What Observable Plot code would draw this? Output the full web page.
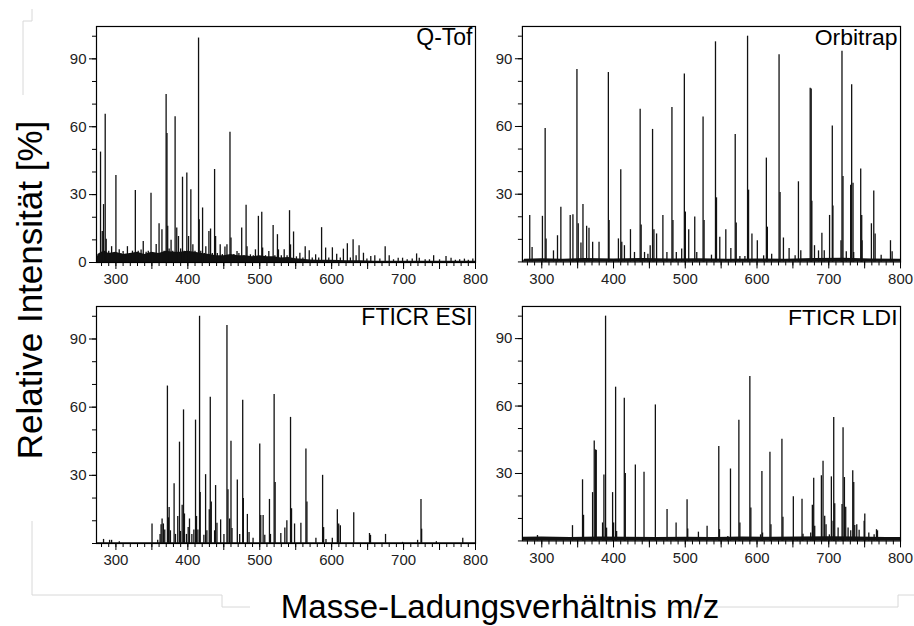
<!DOCTYPE html>
<html><head><meta charset="utf-8">
<script src="https://cdn.jsdelivr.net/npm/d3@7"></script>
<script src="https://cdn.jsdelivr.net/npm/@observablehq/plot@0.6"></script>
<style>
body{margin:0;background:#fff;font-family:"Liberation Sans",Arial,sans-serif;}
#wrap{position:relative;width:914px;height:626px;overflow:hidden;}
.panel{position:absolute;}
#ylab{position:absolute;left:30px;top:290px;transform:translate(-50%,-50%) rotate(-90deg);font-size:35px;white-space:nowrap;color:#000;}
#xlab{position:absolute;left:500px;top:607px;transform:translate(-50%,-50%);font-size:33px;white-space:nowrap;color:#000;}
#deco{position:absolute;left:0;top:0;}
</style></head><body><div id="wrap">
<svg id="deco" width="914" height="626"><path d="M32,9V21H23V95M32,521V595H222V607H250M670,607H898V595H914" fill="none" stroke="#d8d8d8" stroke-width="1"/></svg>
</div>
<script>
// ---- data: [m/z, relative intensity %] ----
const qtofPeaks = [[278.6,48.8],[281,13.7],[282.8,25.6],[285.1,65.5],[286.5,10.3],[290,5],[294,7],[297,4],[300,38.4],[304.6,5.6],[307,4],[310,4.9],[313,3.5],[316,7],[320,4],[323,5],[327,31.8],[331,5],[335,5.5],[338,9.3],[342,4.5],[345,5],[348.8,30.6],[353,4],[356,8],[360,17.1],[364,14.5],[367,5],[369.8,74.3],[371,57],[372,16],[374,6],[376.7,9.8],[379,5],[382.3,64.4],[384.6,15.2],[387,11.5],[390,6],[392.6,37.7],[395,5],[398.6,39.6],[401,11.5],[404.2,32.2],[407,7.8],[410,5],[414.9,99.2],[415.8,18.9],[418,5],[420.5,24.1],[423,4],[425,7],[429.3,13.7],[431.6,14.8],[434,4],[437.2,41.1],[438.6,11.5],[441,4],[445,7.8],[448,3.5],[451.6,6.8],[454.4,7.8],[458.6,57.6],[460,10.8],[464,3.5],[468.4,4.9],[471,4],[474.9,15.2],[478,3],[481,25.3],[482.3,7],[487,3.4],[491,3],[494,5.6],[498.1,20.4],[502.8,22.2],[504,6.4],[508,3],[512.6,4.9],[518.6,16.3],[521,3],[524.6,12.3],[526,5.6],[530,3],[534,5.6],[538,3],[541.4,22.9],[542.8,7.8],[547,13.5],[551,2.5],[555.8,4.1],[560,2],[563.2,7],[568.8,5.2],[573,2],[577.7,3.4],[582,2],[586,15.4],[591.6,6.4],[596,2],[601,6.5],[607,3.7],[612,2],[616.3,5.9],[621.8,8.3],[626,2],[629.8,10],[634,3],[638.1,7.4],[644.2,4.1],[649,1.5],[654.4,2.7],[660,3],[667,1.5],[674.4,7],[680,3],[686,1.2],[692.5,1.9],[698.6,1.9],[705,1.2],[712,1.5],[718.1,3.8],[721.8,1.9],[730,1.2],[736,1.2],[741.8,3],[750,1.2],[759,2.7],[766,1.9],[772,1],[778,1.2],[784.6,1.5],[790,1],[796.3,1.5]];
const qtofFloor = [[273,0],[275,3.5],[280,4.5],[285,5],[290,4],[300,4.5],[310,3.5],[320,4],[330,4.5],[340,3.5],[350,4.5],[360,4],[370,5],[380,4.5],[390,4.5],[400,5],[410,4.5],[420,4],[430,3.5],[440,3],[450,3],[460,3.5],[470,3],[480,3],[490,2.5],[500,3],[510,2.5],[520,2.5],[530,2],[540,2.2],[550,1.7],[560,1.4],[570,1.1],[580,1],[600,1],[620,0.8],[640,0.8],[660,0.6],[680,0.6],[700,0.5],[740,0.5],[780,0.5],[800,0.5]];

const orbiPeaks = [[283.2,20.6],[286.5,6.4],[300.9,20.2],[304.7,59.1],[306,10.2],[316.3,4.9],[321.9,11.6],[326.6,24.2],[339.6,20.6],[343.4,20.9],[349,85.2],[350.8,16.9],[354.6,8.4],[357.4,25.4],[362.5,15.8],[365.8,14.9],[370.9,8.7],[379.8,8.7],[392.8,83.9],[393.8,18.4],[406.8,10.2],[410.1,40.8],[411.5,8.7],[415.2,7.2],[423.6,14.3],[429.2,4.2],[437.1,67.6],[438.5,16.4],[443.2,4.2],[447.9,3.4],[451.1,7.2],[454.4,58.7],[456.3,14.3],[460,12.4],[468.8,20.6],[474.4,4.2],[481.4,68.4],[482.8,18.4],[487.5,4.2],[495,5.7],[498.7,83.2],[500.1,22.1],[504.8,14.3],[513.2,19.9],[516,4.2],[524.8,64.2],[526.2,18.4],[536.5,3],[542.1,97.5],[543.5,28.4],[548.1,10.9],[556.5,14.3],[563.5,6],[569.6,56.4],[571,17.3],[576.1,2.4],[583.1,2.4],[586.8,100],[588.2,31.8],[592.9,12.4],[600.4,9.4],[609.2,2.7],[613,46],[614.4,15.4],[620.4,3.4],[630.7,91.8],[632.1,30.8],[636.8,10.6],[644.7,6],[653.1,2.7],[657.7,35.5],[661,4.9],[674.1,76.9],[675.5,76.6],[676.4,26.9],[680.1,7.2],[685.7,4.9],[690.4,12.7],[693.7,4.9],[701.1,20.6],[704.9,60.2],[705.8,24.8],[717,9.4],[718.4,93.3],[719.8,37.8],[724.4,4.5],[730.5,34],[731.9,78.5],[733.8,34.8],[734.7,4.2],[744.5,41.2],[745.9,20.6],[746.4,9.4],[759.4,16.9],[762.7,31.4],[764.6,12.4],[773,3],[786,9.4],[788.3,4.5]];
const orbiFloor = [[274,0],[276,1.2],[300,1.4],[330,1.2],[360,1.5],[400,1.3],[440,1.5],[480,1.3],[520,1.4],[560,1.2],[600,1.3],[640,1.2],[680,1.5],[720,1.6],[760,1.3],[800,1.2]];

const esiPeaks = [[282.8,1.8],[291.2,1.4],[294,1.4],[304.7,0.8],[350.2,8.6],[358.1,1.4],[361.4,4],[362.8,8.3],[364.2,10.8],[366,8.6],[367.9,5.9],[371.6,69.3],[373,11.3],[374,15.8],[375.8,5.6],[380.9,26.3],[382.8,4],[386,11.9],[388.4,44.6],[389.8,5.3],[392.1,16.8],[394,58.8],[395.3,13],[398.1,4],[400.5,7],[402.3,10.8],[405.6,4],[408.4,5.9],[410.7,54.3],[412.1,11.9],[414,5.9],[416.3,100],[417.2,22.4],[422.3,3.6],[424.7,30.3],[426.5,5.6],[429.8,14.9],[431.2,64.4],[432.6,18.3],[437.2,5.6],[438.6,25.5],[440.5,8.9],[445.6,10.4],[450.2,4],[454.4,95.9],[455.8,23.6],[458.1,10.8],[460,45],[461.4,6.6],[468.8,28],[472.1,4],[476.3,63],[477.2,19.8],[482.8,12.8],[485.1,4.8],[490.7,2.3],[500,43.8],[501.4,12.3],[504.7,12.3],[507,3.6],[513.5,19.4],[514.9,4],[520,65.6],[521.4,26.9],[529.3,4.4],[534.9,6.8],[537.7,10],[542.8,55.5],[544.2,15.3],[548.4,8.6],[557.2,8.9],[564.2,41.6],[565.6,18.3],[578.1,2.3],[587.4,30],[588.8,7],[592.1,1.8],[600.9,2.3],[607.9,14.9],[609.8,8.6],[612.1,7.8],[630.7,13.5],[652.6,4.4],[654,3.6],[674.9,4],[698.6,0.5],[719.5,1.4],[724.2,19.4],[725.1,6.3],[745.6,0.8],[782.3,2.3]];
const esiFloor = [[274,0.3],[800,0.3]];

const ldiPeaks = [[294,2.4],[342.8,6.8],[356.8,27.2],[358.2,11.4],[370.8,21.5],[373.1,44.4],[375,40.5],[375.9,40.2],[384.7,8],[386.6,29.3],[388.9,100],[390.3,5.7],[398.7,21.5],[400.1,8],[402.9,68.4],[404.3,4.2],[415,63.5],[416.4,30],[430.4,33.8],[442.5,30.5],[458.3,60.5],[474.6,14],[487.2,8],[502.5,18.3],[503.4,5.3],[518.3,3.9],[530.4,6.5],[546.7,42],[547.7,5],[559.3,2],[563,32],[574.7,53.7],[576.1,8],[590,73.2],[591.4,14.7],[604.9,2.7],[606.8,30.9],[607.7,3.5],[618,39.5],[619.4,7.2],[634.7,45.2],[636.1,10.5],[650.6,19.7],[656.1,1.5],[662.7,18.5],[664.1,3],[674.8,3.5],[677.1,15.9],[679,27.9],[680.4,6.5],[689.7,29],[692,35.4],[694.3,11],[696.2,7.2],[700.8,2.7],[703.6,28.5],[706,8.7],[706.9,54.9],[708.3,16.5],[713,5.7],[718.5,16.2],[719.9,50.4],[721.8,28.2],[723.6,15],[726.9,5.7],[730.6,4.5],[733.4,31.2],[734.8,26],[736.2,6.9],[739,7.2],[742.3,4.7],[749.3,8.7],[750.2,12],[755.8,3.5],[763.2,2.7],[766.5,5],[767.9,4.5]];
const ldiFloor = [[274,1.6],[300,1.7],[340,1.5],[380,1.8],[420,1.6],[460,1.5],[500,1.6],[540,1.5],[580,1.7],[620,1.6],[660,1.7],[700,1.9],[740,1.8],[780,1.5],[800,1.5]];

const titles = ["Q-Tof", "Orbitrap", "FTICR ESI", "FTICR LDI"];
const xDomain = [273, 800];
const yDomain = [0, 104.3];
const xLabelTicks = [300, 400, 500, 600, 700, 800];
const xMidTicks = [350, 450, 550, 650, 750];
const xMinorTicks = d3.range(280, 801, 10);
const yMinorTicks = d3.range(0, 101, 10);
const yLabelTicksZero = [0, 30, 60, 90];
const yLabelTicks = [30, 60, 90];
const yLabelText = "Relative Intensität [%]";
const xLabelText = "Masse-Ladungsverhältnis m/z";

function panel(peaks, floor, title, yTicks, frameH) {
  return Plot.plot({
    width: 40 + 379 + 14, height: 10 + frameH + 30,
    marginLeft: 40, marginRight: 14, marginTop: 10, marginBottom: 30,
    x: {domain: xDomain, label: null},
    y: {domain: yDomain, label: null},
    style: {background: "transparent", fontFamily: "'Liberation Sans', Arial, sans-serif", fontSize: "15px", color: "#222", overflow: "visible"},
    marks: [
      Plot.areaY(floor, {x: d => d[0], y: d => d[1], fill: "#111"}),
      Plot.ruleX(peaks, {x: d => d[0], y1: 0, y2: d => d[1], stroke: "#111", strokeWidth: 1.3}),
      Plot.frame({stroke: "#000", strokeWidth: 1.2}),
      Plot.axisY({ticks: yMinorTicks, tickSize: 4, tickFormat: () => "", label: null, stroke: "#000"}),
      Plot.axisY({ticks: yTicks, tickSize: 7, tickPadding: 3, label: null, stroke: "#000"}),
      Plot.axisX({ticks: xMinorTicks, tickSize: 4, tickFormat: () => "", label: null, stroke: "#000"}),
      Plot.axisX({ticks: xMidTicks, tickSize: 7, tickFormat: () => "", label: null, stroke: "#000"}),
      Plot.axisX({ticks: xLabelTicks, tickSize: 7, tickPadding: 4, label: null, stroke: "#000"}),
      Plot.text([title], {text: d => d, frameAnchor: "top-right", dx: -3, dy: 2, fontSize: 23, fill: "#000"})
    ]
  });
}

const wrap = document.getElementById("wrap");
const specs = [
  [qtofPeaks, qtofFloor, titles[0], yLabelTicksZero, 236, 56, 16],
  [orbiPeaks, orbiFloor, titles[1], yLabelTicks, 236, 482, 16],
  [esiPeaks, esiFloor, titles[2], yLabelTicks, 237, 56, 296],
  [ldiPeaks, ldiFloor, titles[3], yLabelTicks, 235, 482, 296]
];
for (const [p, f, t, yt, h, left, top] of specs) {
  const div = document.createElement("div");
  div.className = "panel";
  div.style.left = left + "px";
  div.style.top = top + "px";
  div.appendChild(panel(p, f, t, yt, h));
  wrap.appendChild(div);
}
const yl = document.createElement("div"); yl.id = "ylab"; yl.textContent = yLabelText; wrap.appendChild(yl);
const xl = document.createElement("div"); xl.id = "xlab"; xl.textContent = xLabelText; wrap.appendChild(xl);
</script></body></html>
